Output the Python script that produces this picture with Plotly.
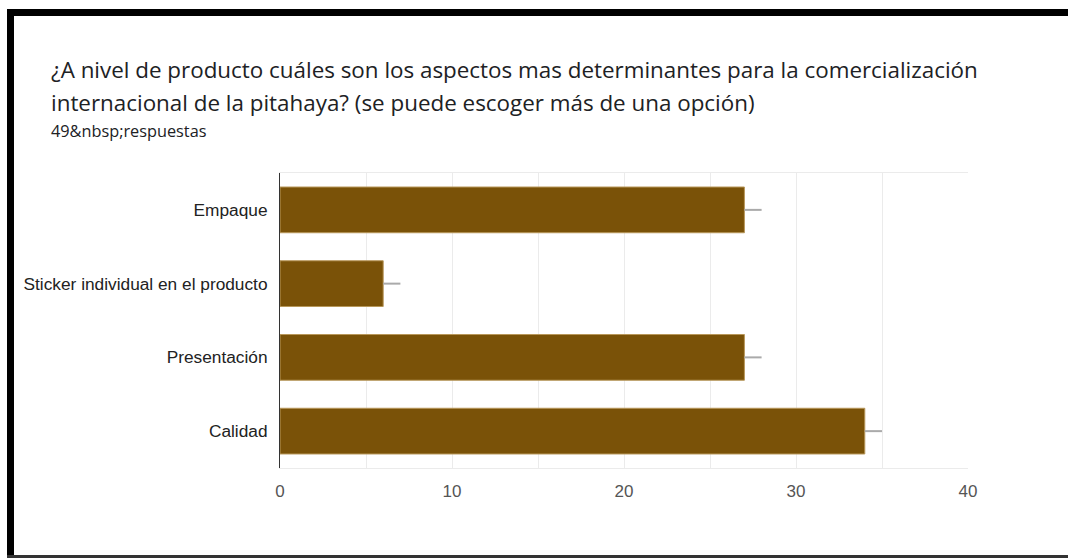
import plotly.graph_objects as go

# Survey answers (49 responses, multiple choice allowed)
categories = ["Empaque", "Sticker individual en el producto", "Presentación", "Calidad"]
counts = [27, 6, 27, 34]
whisker_plus = [1, 1, 1, 1]
whisker_minus = [0, 0, 0, 0]
x_ticks = [0, 10, 20, 30, 40]

title_line1 = "¿A nivel de producto cuáles son los aspectos mas determinantes para la comercialización"
title_line2 = "internacional de la pitahaya? (se puede escoger más de una opción)"
subtitle = "49&amp;nbsp;respuestas"

W, H = 1068, 558
L, R, T, B = 280, 968, 173, 468  # plot area in pixels


def px(x):
    return (x - L) / (R - L)


def py(y):
    return (B - y) / (B - T)


fig = go.Figure()
fig.add_trace(go.Bar(
    y=categories,
    x=counts,
    orientation="h",
    width=0.62,
    marker=dict(color="#7a5208", line=dict(color="#b8975a", width=1)),
    error_x=dict(type="data", symmetric=False, array=whisker_plus,
                 arrayminus=whisker_minus, color="#aaaaaa", thickness=2, width=0),
    hoverinfo="x+y",
))

label_font = dict(family="Liberation Sans, Arial, sans-serif", size=17.3, color="#222222")

fig.update_layout(
    width=W, height=H,
    margin=dict(l=L, r=W - R, t=T, b=H - B, pad=0),
    paper_bgcolor="white",
    plot_bgcolor="white",
    showlegend=False,
    xaxis=dict(
        range=[0, 40],
        tickvals=x_ticks,
        ticktext=[str(v) for v in x_ticks],
        tickfont=dict(family="Liberation Sans, Arial, sans-serif", size=17, color="#555555"),
        showgrid=True, gridcolor="#ebebeb", gridwidth=1,
        minor=dict(dtick=5, showgrid=True, gridcolor="#ebebeb", gridwidth=1),
        showline=True, linecolor="#ebebeb", linewidth=1, mirror=True,
        zeroline=False, ticks="", ticklabelstandoff=8,
        fixedrange=True,
    ),
    yaxis=dict(
        autorange="reversed",
        tickfont=label_font,
        showgrid=False,
        showline=True, linecolor="#333333", linewidth=1,
        ticks="", ticklabelstandoff=8,
        fixedrange=True,
    ),
    font=dict(family="Liberation Sans, Arial, sans-serif"),
)

title_font = dict(family="Open Sans, sans-serif", size=22.4, color="#202124")
fig.add_annotation(text=title_line1, xref="paper", yref="paper", x=px(49), y=py(70),
                   xanchor="left", yanchor="middle", showarrow=False, font=title_font)
fig.add_annotation(text=title_line2, xref="paper", yref="paper", x=px(49), y=py(103),
                   xanchor="left", yanchor="middle", showarrow=False, font=title_font)
fig.add_annotation(text=subtitle, xref="paper", yref="paper", x=px(49), y=py(131),
                   xanchor="left", yanchor="middle", showarrow=False,
                   font=dict(family="Open Sans, sans-serif", size=16.3, color="#202124"))

# window frame around the card
frame = [
    (7, 9, W, 16, "#000000"),
    (7, 9, 14, H, "#000000"),
    (7, 555, W, H, "#333333"),
]
for x0, y0, x1, y1, c in frame:
    fig.add_shape(type="rect", xref="paper", yref="paper",
                  x0=px(x0), x1=px(x1), y0=py(y0), y1=py(y1),
                  fillcolor=c, line=dict(width=0), layer="above")

fig.write_html("out.html")
